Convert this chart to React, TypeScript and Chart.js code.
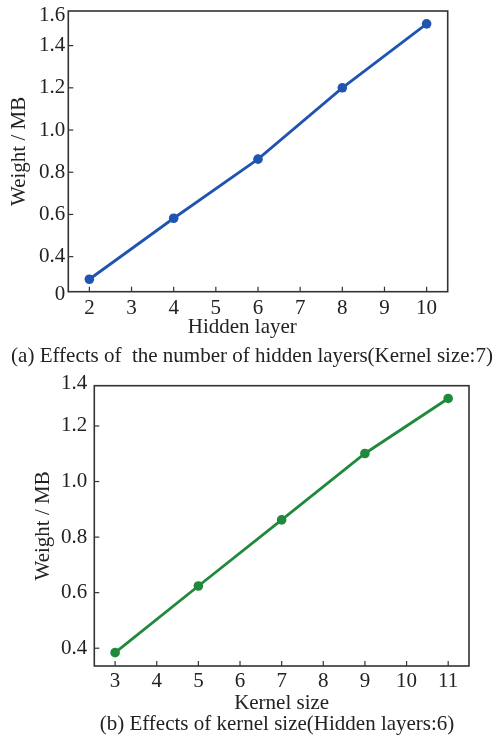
import React, { useEffect, useRef } from "react";
import { Chart, registerables } from "chart.js";

Chart.register(...registerables);

// ---- data ----
const hiddenLayers = [2, 4, 6, 8, 10];
const hiddenWeights = [0.293, 0.582, 0.862, 1.2, 1.503];
const kernelSizes = [3, 5, 7, 9, 11];
const kernelWeights = [0.384, 0.624, 0.862, 1.101, 1.299];

const topXTicks = [2, 3, 4, 5, 6, 7, 8, 9, 10];
const bottomXTicks = [3, 4, 5, 6, 7, 8, 9, 10, 11];
const topYTickValues = [0.22, 0.4, 0.6, 0.8, 1.0, 1.2, 1.4, 1.542];
const topYTickLabels = ["0", "0.4", "0.6", "0.8", "1.0", "1.2", "1.4", "1.6"];
const bottomYTickValues = [0.4, 0.6, 0.8, 1.0, 1.2, 1.353];
const bottomYTickLabels = ["0.4", "0.6", "0.8", "1.0", "1.2", "1.4"];

const captionA = "(a) Effects of  the number of hidden layers(Kernel size:7)";
const captionB = "(b) Effects of kernel size(Hidden layers:6)";

const FONT = "'Liberation Serif', 'Times New Roman', serif";
const TEXT = "#222";

const framePlugin = {
  id: "frameAndTicks",
  afterDraw(chart: any) {
    const { ctx, chartArea } = chart;
    const { left, right, top, bottom } = chartArea;
    ctx.save();
    ctx.strokeStyle = "#333";
    ctx.lineWidth = 1.2;
    const xs = chart.scales.x;
    xs.ticks.forEach((t: any) => {
      const px = xs.getPixelForValue(t.value);
      if (px < left + 8 || px > right - 8) return;
      ctx.beginPath();
      ctx.moveTo(px, bottom);
      ctx.lineTo(px, bottom - 5);
      ctx.stroke();
    });
    const ys = chart.scales.y;
    ys.ticks.forEach((t: any) => {
      const py = ys.getPixelForValue(t.value);
      if (py < top + 8 || py > bottom - 8) return;
      ctx.beginPath();
      ctx.moveTo(left, py);
      ctx.lineTo(left + 5, py);
      ctx.stroke();
    });
    ctx.lineWidth = 1.6;
    ctx.strokeRect(left, top, right - left, bottom - top);
    ctx.restore();
  },
};

function makeConfig(p: any): any {
  const font = { family: FONT, size: 21 };
  return {
    type: "line",
    data: {
      datasets: [
        {
          data: p.xs.map((x: number, i: number) => ({ x, y: p.ys[i] })),
          borderColor: p.color,
          backgroundColor: p.color,
          pointBackgroundColor: p.color,
          pointBorderWidth: 0,
          pointRadius: 4.8,
          borderWidth: 2.8,
          tension: 0,
        },
      ],
    },
    options: {
      responsive: false,
      animation: false,
      devicePixelRatio: 1,
      layout: {
        autoPadding: false,
        padding: { left: 0, top: p.padTop, right: p.padRight, bottom: 0 },
      },
      plugins: { legend: { display: false }, tooltip: { enabled: false } },
      scales: {
        x: {
          type: "linear",
          min: p.xMin,
          max: p.xMax,
          grid: { display: false, drawTicks: false },
          border: { display: false },
          afterBuildTicks(s: any) {
            s.ticks = p.xTicks.map((v: number) => ({ value: v }));
          },
          ticks: {
            padding: p.xTickPad,
            font,
            color: TEXT,
            autoSkip: false,
            maxRotation: 0,
            minRotation: 0,
            callback: (v: any) => String(v),
          },
          title: {
            display: true,
            text: p.xTitle,
            font,
            color: TEXT,
            padding: { top: 0, bottom: 0 },
          },
          afterFit(s: any) {
            s.height = p.xAxisH;
            s.paddingLeft = 0;
            s.paddingRight = 0;
          },
        },
        y: {
          type: "linear",
          min: p.yMin,
          max: p.yMax,
          grid: { display: false, drawTicks: false },
          border: { display: false },
          afterBuildTicks(s: any) {
            s.ticks = p.yTickValues.map((v: number) => ({ value: v }));
          },
          ticks: {
            padding: p.yTickPad,
            font: { ...font, lineHeight: 1 },
            color: TEXT,
            autoSkip: false,
            callback: (_v: any, i: number) => p.yTickLabels[i],
          },
          title: {
            display: true,
            text: "Weight / MB",
            font,
            color: TEXT,
            padding: { top: p.yTitlePad, bottom: 0 },
          },
          afterFit(s: any) {
            s.width = p.yAxisW;
            s.paddingTop = 0;
            s.paddingBottom = 0;
          },
        },
      },
    },
    plugins: [framePlugin],
  };
}

const topParams = {
  xs: hiddenLayers,
  ys: hiddenWeights,
  color: "#1f55b1",
  xMin: 1.5,
  xMax: 10.5,
  xTicks: topXTicks,
  yMin: 0.234,
  yMax: 1.564,
  yTickValues: topYTickValues,
  yTickLabels: topYTickLabels,
  xTitle: "Hidden layer      ",
  padTop: 11,
  padRight: 53.3,
  yAxisW: 68.3,
  xAxisH: 48.3,
  yTitlePad: 6.4,
  yTickPad: 3,
  xTickPad: 3.7,
};

const bottomParams = {
  xs: kernelSizes,
  ys: kernelWeights,
  color: "#20893c",
  xMin: 2.5,
  xMax: 11.5,
  xTicks: bottomXTicks,
  yMin: 0.336,
  yMax: 1.345,
  yTickValues: bottomYTickValues,
  yTickLabels: bottomYTickLabels,
  xTitle: "Kernel size",
  padTop: 45.7,
  padRight: 32,
  yAxisW: 94.3,
  xAxisH: 50,
  yTitlePad: 30.4,
  yTickPad: 7,
  xTickPad: 3,
};

export default function App() {
  const r1 = useRef<HTMLCanvasElement>(null);
  const r2 = useRef<HTMLCanvasElement>(null);
  useEffect(() => {
    const c1 = new Chart(r1.current as HTMLCanvasElement, makeConfig(topParams));
    const c2 = new Chart(r2.current as HTMLCanvasElement, makeConfig(bottomParams));
    return () => {
      c1.destroy();
      c2.destroy();
    };
  }, []);
  const cap: React.CSSProperties = {
    position: "absolute",
    transform: "translateX(-50%)",
    whiteSpace: "pre",
    fontFamily: FONT,
    fontSize: 21,
    lineHeight: "24px",
    color: TEXT,
  };
  return (
    <div
      style={{
        position: "absolute",
        left: 0,
        top: 0,
        width: 501,
        height: 743,
        background: "#fff",
        overflow: "hidden",
      }}
    >
      <canvas
        ref={r1}
        width={501}
        height={340}
        style={{ position: "absolute", left: 0, top: 0, width: 501, height: 340 }}
      />
      <canvas
        ref={r2}
        width={501}
        height={376}
        style={{ position: "absolute", left: 0, top: 340, width: 501, height: 376 }}
      />
      <div style={{ ...cap, left: 252, top: 343 }}>{captionA}</div>
      <div style={{ ...cap, left: 277, top: 711 }}>{captionB}</div>
    </div>
  );
}
